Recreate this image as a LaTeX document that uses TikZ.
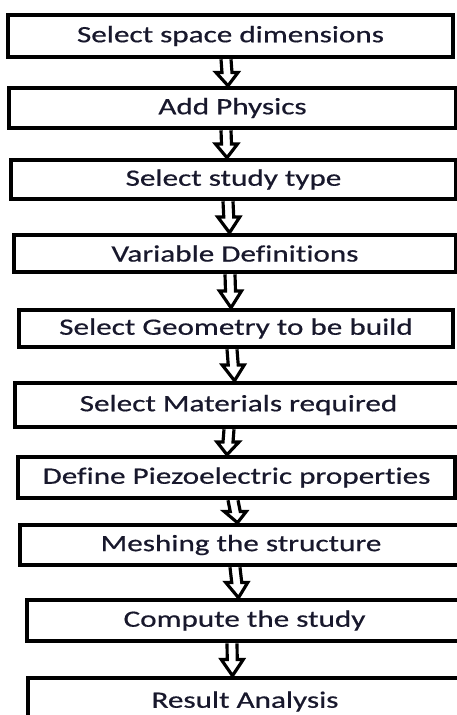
\documentclass[tikz,border=0pt]{standalone}
\usepackage{fontspec}
\setmainfont{Carlito}[FakeStretch=1.33, FakeBold=0.6, Ligatures=NoCommon]
\usetikzlibrary{calc}
\definecolor{txt}{RGB}{24,24,44}
\tikzset{%
    stepbox/.style={draw, line width=3.9pt, inner sep=0pt, text=txt,
        font=\fontsize{20}{24}\selectfont}
}

\begin{document}
\begin{tikzpicture}[x=0.03cm, y=-0.03cm,
        hollow/.style={line width=2.7pt, line join=miter}
        ]
        \useasboundingbox (0,0) rectangle (457,715);
        \clip (0,0) rectangle (457,715);

        \node[stepbox, minimum width=445*0.03cm, minimum height=42*0.03cm] (dim) at (230.5,36) {Select space dimensions};
        \node[stepbox, minimum width=447*0.03cm, minimum height=40*0.03cm] (phy) at (232.5,108) {Add Physics};
        \node[stepbox, minimum width=445*0.03cm, minimum height=39*0.03cm] (stu) at (233.5,179.5) {Select study type};
        \node[stepbox, minimum width=442*0.03cm, minimum height=37*0.03cm] (var) at (235,253.5) {Variable Definitions};
        \node[stepbox, minimum width=434*0.03cm, minimum height=37*0.03cm] (geo) at (236,328.5) {Select Geometry to be build};
        \node[stepbox, minimum width=447*0.03cm, minimum height=44*0.03cm] (mat) at (238.5,405) {Select Materials required};
        \node[stepbox, minimum width=437*0.03cm, minimum height=41*0.03cm] (pie) at (236.5,477.5) {Define Piezoelectric properties};
        \node[stepbox, minimum width=442*0.03cm, minimum height=40*0.03cm] (msh) at (241,545) {Meshing the structure};
        \node[stepbox, minimum width=435*0.03cm, minimum height=41*0.03cm] (cmp) at (244.5,620.5) {Compute the study};
        \node[stepbox, minimum width=434*0.03cm, minimum height=47*0.03cm] (res) at (245,701.5) {Result Analysis};

        % hollow block arrows between the steps
        \foreach \a/\b/\dx in {dim/phy/-4.5, phy/stu/-6.5, stu/var/-5.5, var/geo/-5,
                geo/mat/-4, mat/pie/-9.5, pie/msh/-3.5, msh/cmp/-6, cmp/res/-12.5} {
            \coordinate (s) at ($(\a.south)+(\dx,0)$);
            \coordinate (e) at ($(\b.north)+(\dx,0)$);
            \draw[hollow] ($(s)+(-5,0)$) -- ($(s)!0.5!(e)+(-5,0)$) -- ($(s)!0.5!(e)+(-11,0)$)
                -- (e) -- ($(s)!0.5!(e)+(11,0)$) -- ($(s)!0.5!(e)+(5,0)$) -- ($(s)+(5,0)$);
        }
    \end{tikzpicture}
\end{document}
